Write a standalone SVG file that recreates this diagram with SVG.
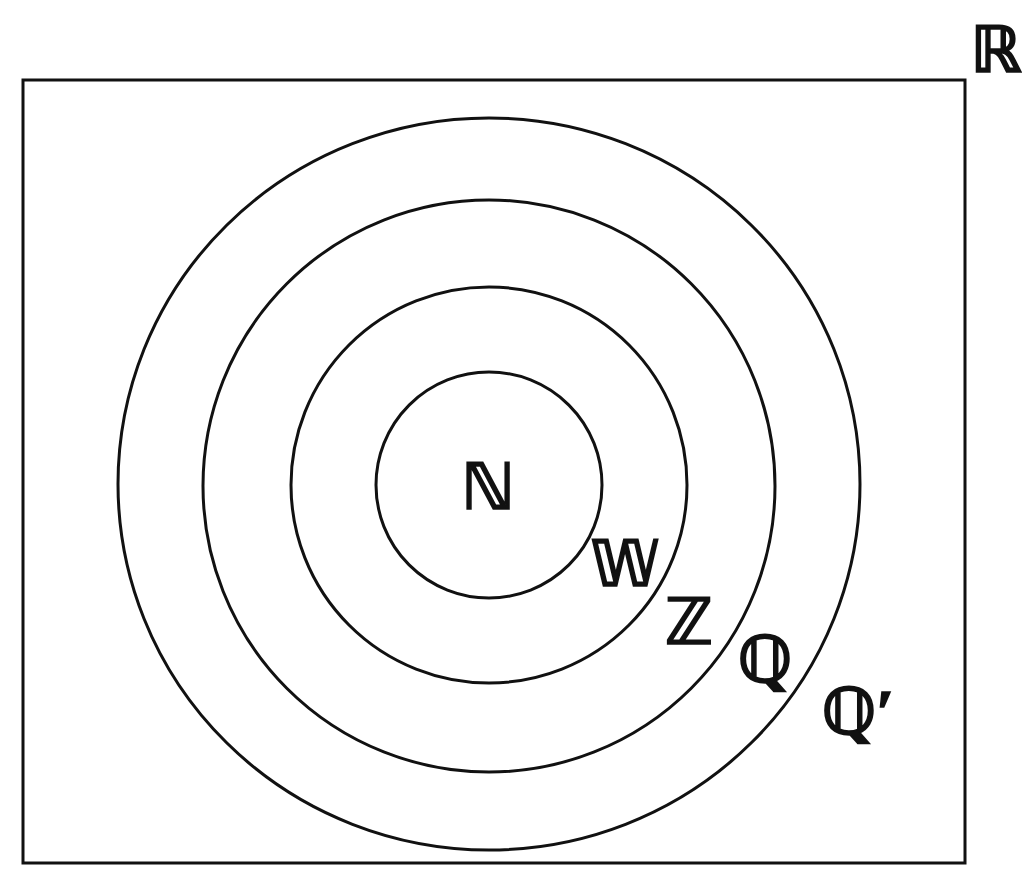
<svg xmlns="http://www.w3.org/2000/svg" width="1022" height="872" viewBox="0 0 1022 872">
<style>
.ln{fill:none;stroke:#111;stroke-width:3}
.lb{font-family:"Liberation Serif","DejaVu Serif","DejaVu Sans",serif;font-weight:bold;fill:#111;stroke:#111;stroke-width:1.6;font-size:64px;text-anchor:middle}
</style>
<rect width="1022" height="872" fill="#fff"/>
<g id="R">
<rect class="ln" x="23" y="80" width="942" height="783"/>
<text class="lb" x="996" y="72">ℝ</text>
</g>
<g id="Qprime">
<ellipse class="ln" cx="489" cy="484" rx="371" ry="366"/>
<text class="lb" x="858" y="734">ℚ′</text>
</g>
<g id="Q">
<circle class="ln" cx="489" cy="486" r="286"/>
<text class="lb" x="765" y="682">ℚ</text>
</g>
<g id="Z">
<circle class="ln" cx="489" cy="485" r="198"/>
<text class="lb" x="689" y="644">ℤ</text>
</g>
<g id="W">
<circle class="ln" cx="489" cy="485" r="113"/>
<text class="lb" x="625" y="586">𝕎</text>
</g>
<g id="N">
<text class="lb" x="488" y="509">ℕ</text>
</g>
</svg>
